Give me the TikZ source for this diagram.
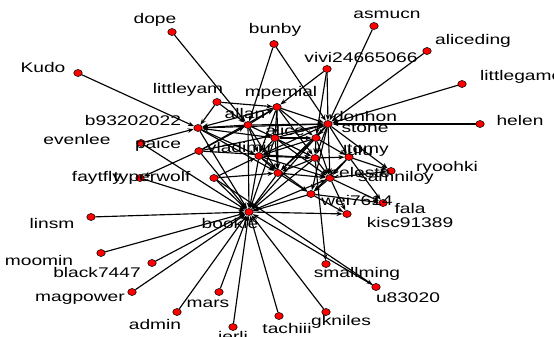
\documentclass[tikz,border=0pt]{standalone}
\usepackage{fontspec}
\setmainfont{Liberation Sans}
\usetikzlibrary{shapes.geometric,arrows.meta}
\pgfdeclarelayer{bg}
\pgfsetlayers{bg,main}
\newcommand\lbtxt[1]{\scalebox{1.37}[1]{#1}}
\tikzset{
  vtx/.style={ellipse,fill=red,draw=black,line width=0.5pt,minimum width=8.5pt,minimum height=7pt,inner sep=0pt},
  lab/.style={inner sep=0pt,font=\fontsize{14}{14}\selectfont},
  edge/.style={line width=1.15pt,black,-{Stealth[length=6pt,width=4.5pt]}},
}
\begin{document}
\begin{tikzpicture}[x=1pt,y=-1pt]
\useasboundingbox (0,0) rectangle (554,337);
\clip (0,0) rectangle (554,337);
% vertices
\node[vtx] (dope) at (172,32) {};
\node[vtx] (bunby) at (274,44) {};
\node[vtx] (asmucn) at (374,26) {};
\node[vtx] (aliceding) at (427,51) {};
\node[vtx] (vivi) at (327,69) {};
\node[vtx] (littlegam) at (462,84) {};
\node[vtx] (kudo) at (78,73) {};
\node[vtx] (littleyam) at (217,102) {};
\node[vtx] (mpemial) at (277,107) {};
\node[vtx] (allan) at (248,125) {};
\node[vtx] (alice) at (275,138) {};
\node[vtx] (donhon) at (328,124) {};
\node[vtx] (stone) at (316,138) {};
\node[vtx] (helen) at (480,124) {};
\node[vtx] (b93) at (198,128) {};
\node[vtx] (evenlee) at (141,143) {};
\node[vtx] (paice) at (199,151) {};
\node[vtx] (vlad) at (259,156) {};
\node[vtx] (faytfly) at (140,178) {};
\node[vtx] (typer) at (214,178) {};
\node[vtx] (linsm) at (91,217) {};
\node[vtx] (moomin) at (101,253) {};
\node[vtx] (black) at (152,263) {};
\node[vtx] (magpower) at (132,292) {};
\node[vtx] (admin) at (177,312) {};
\node[vtx] (mars) at (219,292) {};
\node[vtx] (jerli) at (233,327) {};
\node[vtx] (tachiii) at (279,316) {};
\node[vtx] (gkniles) at (326,312) {};
\node[vtx] (smallming) at (326,264) {};
\node[vtx] (u83020) at (376,287) {};
\node[vtx] (kisc) at (347,214) {};
\node[vtx] (fala) at (383,203) {};
\node[vtx] (wei) at (311,194) {};
\node[vtx] (ryoohki) at (391,171) {};
\node[vtx] (celeste) at (330,178) {};
\node[vtx] (lulu) at (349,157) {};
\node[vtx] (tomy) at (315,158) {};
\node[vtx] (nL) at (278,173) {};
\node[vtx] (bookie) at (249,212) {};
% labels
\node[lab] (l1) at (155,20) {\lbtxt{dope}};
\node[lab] (l2) at (275,30) {\lbtxt{bunby}};
\node[lab] (l3) at (387,15) {\lbtxt{asmucn}};
\node[lab] (l4) at (473,41) {\lbtxt{aliceding}};
\node[lab] (l5) at (361,57) {\lbtxt{vivi24665066}};
\node[lab,anchor=west] (l6) at (480,77) {\lbtxt{littlegame}};
\node[lab] (l7) at (43,67) {\lbtxt{Kudo}};
\node[lab] (l8) at (188,90) {\lbtxt{littleyam}};
\node[lab] (l9) at (281,93) {\lbtxt{mpemial}};
\node[lab] (l10) at (245,113) {\lbtxt{allan}};
\node[lab] (l11) at (285,130) {\lbtxt{alice}};
\node[lab] (l12) at (365,116) {\lbtxt{donhon}};
\node[lab] (l13) at (365,128) {\lbtxt{stone}};
\node[lab] (l14) at (520,120) {\lbtxt{helen}};
\node[lab] (l15) at (133,120) {\lbtxt{b93202022}};
\node[lab] (l16) at (77,139) {\lbtxt{evenlee}};
\node[lab] (l17) at (158,145) {\lbtxt{paice}};
\node[lab] (l18) at (240,147) {\lbtxt{vladimir}};
\node[lab] (l19) at (97,178) {\lbtxt{faytfly}};
\node[lab] (l20) at (152,178) {\lbtxt{typerwolf}};
\node[lab] (l21) at (52,223) {\lbtxt{linsm}};
\node[lab] (l22) at (39,260) {\lbtxt{moomin}};
\node[lab] (l23) at (97,272) {\lbtxt{black7447}};
\node[lab] (l24) at (80,299) {\lbtxt{magpower}};
\node[lab] (l25) at (155,324) {\lbtxt{admin}};
\node[lab] (l26) at (208,304) {\lbtxt{mars}};
\node[lab] (l27) at (233,338) {\lbtxt{jerli}};
\node[lab] (l28) at (287,328) {\lbtxt{tachiii}};
\node[lab] (l29) at (341,322) {\lbtxt{gkniles}};
\node[lab] (l30) at (357,274) {\lbtxt{smallming}};
\node[lab] (l31) at (408,298) {\lbtxt{u83020}};
\node[lab] (l32) at (410,222) {\lbtxt{kisc91389}};
\node[lab] (l33) at (410,208) {\lbtxt{fala}};
\node[lab] (l34) at (357,200) {\lbtxt{wei7614}};
\node[lab] (l35) at (447,168) {\lbtxt{ryoohki}};
\node[lab] (l36) at (396,178) {\lbtxt{samniloy}};
\node[lab] (l37) at (360,172) {\lbtxt{celeste}};
\node[lab] (l38) at (358,150) {\lbtxt{lulu}};
\node[lab] (l39) at (368,150) {\lbtxt{tomy}};
\node[lab] (l40) at (230,223) {\lbtxt{bookie}};
% edges
\begin{pgfonlayer}{bg}
\foreach \a/\b in {dope/allan,bunby/allan,bunby/donhon,asmucn/donhon,aliceding/donhon,
  vivi/donhon,vivi/mpemial,vivi/stone,littlegam/donhon,helen/donhon,kudo/b93,
  littleyam/b93,littleyam/allan,littleyam/mpemial,evenlee/b93,evenlee/bookie,
  faytfly/bookie,paice/faytfly,
  linsm/bookie,moomin/bookie,black/bookie,magpower/bookie,admin/bookie,mars/bookie,
  jerli/bookie,tachiii/bookie,gkniles/bookie,u83020/bookie,typer/u83020,tomy/smallming,
  allan/b93,mpemial/b93,alice/b93,donhon/b93,
  b93/bookie,b93/vlad,b93/nL,paice/allan,paice/mpemial,paice/donhon,paice/bookie,paice/tomy,
  allan/mpemial,allan/alice,allan/donhon,allan/vlad,allan/nL,allan/bookie,
  mpemial/donhon,mpemial/alice,mpemial/stone,mpemial/vlad,mpemial/tomy,mpemial/nL,
  alice/donhon,alice/stone,alice/vlad,alice/tomy,alice/nL,alice/celeste,alice/bookie,
  donhon/stone,donhon/tomy,donhon/lulu,donhon/celeste,donhon/nL,donhon/wei,donhon/ryoohki,donhon/vlad,donhon/bookie,
  stone/tomy,stone/lulu,stone/celeste,stone/nL,stone/vlad,
  vlad/nL,vlad/tomy,vlad/celeste,vlad/bookie,vlad/wei,
  tomy/lulu,tomy/celeste,tomy/nL,tomy/bookie,
  lulu/celeste,lulu/ryoohki,lulu/fala,lulu/wei,
  nL/celeste,nL/wei,nL/bookie,
  celeste/wei,celeste/fala,celeste/kisc,celeste/ryoohki,
  wei/kisc,wei/fala,wei/bookie,
  bookie/kisc,bookie/celeste,typer/vlad,typer/nL,typer/bookie}
  \draw[edge] (\a) -- (\b);
\end{pgfonlayer}
\end{tikzpicture}
\end{document}
